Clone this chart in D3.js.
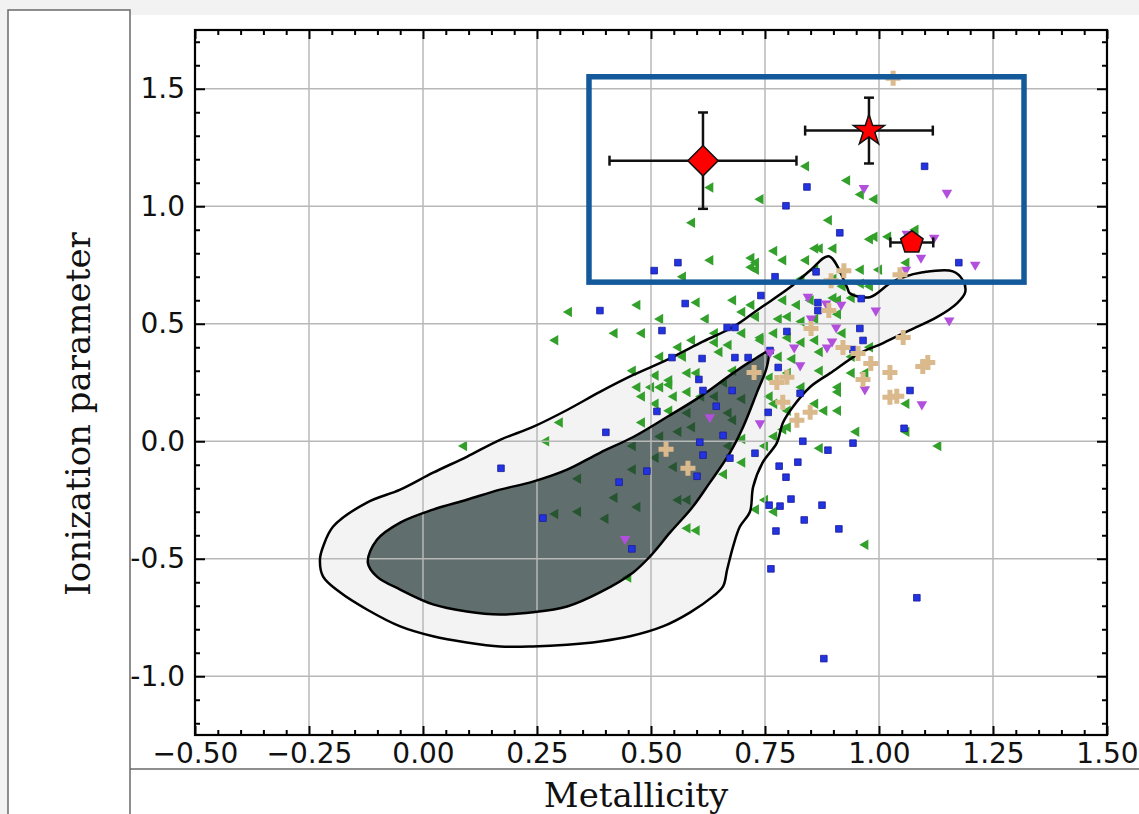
<!DOCTYPE html>
<html>
<head>
<meta charset="utf-8">
<script src="https://cdn.jsdelivr.net/npm/d3@7"></script>
<style>
html, body { margin: 0; padding: 0; background: #f2f2f2; }
svg { display: block; }
</style>
</head>
<body>
<svg id="chart" width="1139" height="814"></svg>
<script>
// tick values and labels
const xTicks = [-0.5, -0.25, 0, 0.25, 0.5, 0.75, 1, 1.25, 1.5];
const xTickLabels = ["\u22120.50", "\u22120.25", "0.00", "0.25", "0.50", "0.75", "1.00", "1.25", "1.50"];
const yTicks = [-1, -0.5, 0, 0.5, 1, 1.5];
const yTickLabels = ["-1.0", "-0.5", "0.0", "0.5", "1.0", "1.5"];

// density contours (metallicity, ionization parameter)
const outerContour = [
  [-0.226, -0.503], [-0.219, -0.448], [-0.197, -0.363], [-0.123, -0.261], [-0.050, -0.206],
  [0.022, -0.134], [0.096, -0.066], [0.169, 0.006], [0.241, 0.061], [0.316, 0.133],
  [0.388, 0.210], [0.461, 0.282], [0.535, 0.346], [0.607, 0.418], [0.680, 0.486],
  [0.739, 0.566], [0.805, 0.655], [0.849, 0.727], [0.890, 0.787], [0.930, 0.655],
  [0.936, 0.630], [0.980, 0.613], [1.024, 0.672], [1.053, 0.698], [1.096, 0.719],
  [1.162, 0.723], [1.184, 0.685], [1.189, 0.634], [1.171, 0.587], [1.127, 0.528],
  [1.068, 0.473], [1.009, 0.418], [0.958, 0.375], [0.893, 0.290], [0.849, 0.231],
  [0.811, 0.146], [0.789, 0.078], [0.776, -0.007], [0.745, -0.090], [0.724, -0.194],
  [0.717, -0.300], [0.695, -0.363], [0.680, -0.448], [0.667, -0.546], [0.658, -0.618],
  [0.636, -0.660], [0.586, -0.728], [0.526, -0.788], [0.454, -0.830], [0.388, -0.852],
  [0.316, -0.866], [0.241, -0.873], [0.169, -0.873], [0.096, -0.856], [0.022, -0.830],
  [-0.050, -0.788], [-0.123, -0.716], [-0.182, -0.643], [-0.219, -0.576]
];
const innerContour = [
  [-0.121, -0.516], [-0.101, -0.419], [-0.050, -0.346], [0.022, -0.291], [0.096, -0.249],
  [0.169, -0.206], [0.241, -0.172], [0.316, -0.121], [0.388, -0.049], [0.461, 0.018],
  [0.535, 0.103], [0.607, 0.189], [0.680, 0.290], [0.724, 0.346], [0.757, 0.380],
  [0.754, 0.316], [0.732, 0.206], [0.702, 0.061], [0.673, -0.049], [0.629, -0.176],
  [0.592, -0.278], [0.542, -0.388], [0.498, -0.490], [0.461, -0.558], [0.388, -0.643],
  [0.316, -0.703], [0.241, -0.728], [0.169, -0.737], [0.096, -0.724], [0.022, -0.694],
  [-0.050, -0.631], [-0.101, -0.576]
];

// scatter samples
const greenPts = [
  [0.84,1.17],[0.93,1.11],[0.63,1.08],[0.74,1.03],[0.96,1.05],[0.99,1.03],[0.59,0.93],[0.89,0.94],
  [0.98,0.86],[0.99,0.87],[1.02,0.87],[1.08,0.90],[0.90,0.82],[0.86,0.82],[0.87,0.82],[0.77,0.81],
  [0.79,0.77],[0.63,0.77],[0.72,0.74],[0.73,0.73],[0.84,0.77],[0.86,0.73],[0.96,0.73],[1.00,0.73],
  [1.06,0.76],[0.57,0.70],[0.83,0.69],[0.90,0.69],[0.96,0.67],[0.98,0.66],[0.68,0.60],[0.47,0.58],
  [0.90,0.61],[0.91,0.60],[0.73,0.76],[0.72,0.78],[0.92,0.72],[0.79,0.60],[0.82,0.58],[0.85,0.60],
  [0.92,0.66],[0.94,0.61],[0.73,0.53],[0.78,0.52],[0.80,0.53],[0.83,0.51],[0.86,0.52],[0.91,0.54],
  [0.74,0.43],[0.77,0.46],[0.80,0.44],[0.83,0.42],[0.86,0.43],[0.92,0.46],[0.98,0.40],[0.78,0.36],
  [0.81,0.35],[0.87,0.38],[0.94,0.36],[0.76,0.27],[0.80,0.29],[0.87,0.30],[0.94,0.29],[0.97,0.29],
  [0.76,0.19],[0.83,0.23],[0.91,0.21],[0.86,0.16],[0.77,0.16],[0.80,0.13],[0.88,0.13],[0.91,0.13],
  [0.95,0.04],[1.06,0.16],[1.06,0.04],[1.13,-0.02],[0.87,-0.03],[0.80,0.06],[0.79,0.05],
  [0.32,0.55],[0.29,0.43],[0.42,0.46],[0.48,0.46],[0.52,0.52],[0.60,0.59],[0.62,0.52],[0.64,0.46],
  [0.70,0.55],[0.72,0.58],[0.70,0.46],[0.74,0.44],[0.59,0.43],[0.56,0.40],[0.64,0.42],[0.67,0.41],
  [0.52,0.36],[0.57,0.36],[0.65,0.38],[0.46,0.30],[0.51,0.28],[0.54,0.26],[0.58,0.29],[0.60,0.29],
  [0.68,0.30],[0.47,0.23],[0.48,0.19],[0.50,0.23],[0.52,0.23],[0.55,0.19],[0.58,0.21],[0.61,0.19],
  [0.66,0.25],[0.64,0.19],[0.51,0.16],[0.54,0.13],[0.58,0.12],[0.70,0.18],[0.67,0.12],[0.30,0.08],
  [0.27,0.00],[0.09,-0.02],[0.48,0.08],[0.59,0.06],[0.68,0.09],[0.70,0.01],[0.77,0.02],[0.52,0.02],
  [0.56,0.04],[0.46,-0.02],[0.67,-0.02],[0.70,-0.09],[0.75,-0.02],[0.66,-0.14],[0.51,-0.07],[0.55,-0.11],
  [0.46,-0.12],[0.34,-0.16],[0.42,-0.24],[0.47,-0.28],[0.56,-0.25],[0.58,-0.25],[0.29,-0.31],[0.34,-0.30],
  [0.40,-0.33],[0.58,-0.37],[0.60,-0.38],[0.75,-0.25],[0.77,-0.30],[0.73,-0.29],[0.45,-0.58],[0.54,0.24],
  [0.91,0.23],[0.97,-0.44]
];
const bluePts = [
  [1.10,1.17],[0.842,1.082],[0.796,1.002],[0.914,0.887],[0.559,0.760],[0.507,0.726],[0.772,0.700],[0.862,0.721],
  [1.175,0.760],[0.741,0.620],[0.575,0.586],[0.866,0.590],[0.866,0.556],[0.961,0.607],[0.388,0.556],[0.524,0.471],
  [0.667,0.484],[0.684,0.484],[0.798,0.467],[0.958,0.480],[0.965,0.429],[0.943,0.390],[0.546,0.356],[0.612,0.352],
  [0.684,0.356],[0.713,0.356],[0.761,0.386],[0.779,0.314],[0.605,0.263],[0.678,0.216],[0.614,0.216],[0.827,0.204],
  [1.068,0.216],[0.643,0.149],[0.513,0.127],[0.757,0.123],[0.401,0.038],[0.658,0.025],[0.607,-0.004],[1.055,0.055],
  [0.833,0.0],[0.943,-0.008],[0.888,-0.038],[0.728,-0.051],[0.614,-0.059],[0.673,-0.072],[0.781,-0.106],[0.822,-0.089],
  [0.796,-0.153],[0.601,-0.149],[0.491,-0.127],[0.171,-0.115],[0.430,-0.174],[0.759,-0.272],[0.783,-0.276],[0.807,-0.246],
  [0.875,-0.272],[0.836,-0.335],[0.912,-0.373],[0.774,-0.382],[0.263,-0.327],[0.458,-0.458],[0.763,-0.543],[0.879,-0.925],
  [1.083,-0.666]
];
const purplePts = [
  [0.967,1.078],[1.149,1.057],[1.061,0.883],[1.121,0.866],[1.092,0.781],[1.059,0.730],[1.211,0.751],[0.844,0.615],
  [0.884,0.586],[0.917,0.581],[0.993,0.556],[0.851,0.522],[0.906,0.484],[0.897,0.424],[0.814,0.399],[0.886,0.399],
  [0.827,0.323],[0.969,0.221],[1.094,0.157],[1.154,0.514],[0.739,0.076],[0.629,0.102],[0.443,-0.416],[0.761,0.378]
];
const tanPts = [
  [1.031,1.545],[0.923,0.726],[0.895,0.683],[1.046,0.709],[0.890,0.556],[0.851,0.480],[0.921,0.399],[0.954,0.373],
  [0.982,0.331],[1.053,0.441],[1.107,0.335],[1.024,0.293],[0.798,0.272],[0.776,0.250],[0.965,0.263],[1.024,0.187],
  [0.789,0.166],[0.849,0.123],[0.820,0.089],[0.726,0.293],[0.533,-0.034],[0.581,-0.115],[1.096,0.318],[1.039,0.191]
];

// highlighted objects with error bars
const objX = [0.614, 0.978, 1.072];
const objY = [1.194, 1.322, 0.846];
const objXErr = [0.205, 0.14, 0.047];
const objYErr = [0.205, 0.14, 0.0];
const objShape = ["diamond", "star", "pentagon"];

// highlight box [x0, x1], [y0, y1]
const boxX = [0.364, 1.318];
const boxY = [0.677, 1.551];

const svg = d3.select("#chart");

// page frame
svg.append("rect").attr("x", 130).attr("y", 15).attr("width", 1009).attr("height", 799).attr("fill", "#fff");
svg.append("rect").attr("x", 8).attr("y", 10).attr("width", 122).attr("height", 830)
  .attr("fill", "#fff").attr("stroke", "#6a6a6a").attr("stroke-width", 1.5);
svg.append("line").attr("x1", 130).attr("x2", 1139).attr("y1", 769).attr("y2", 769)
  .attr("stroke", "#6a6a6a").attr("stroke-width", 1.5);

const x = d3.scaleLinear().domain([-0.5, 1.5]).range([195, 1107]);
const y = d3.scaleLinear().domain([-1.25, 1.75]).range([735, 30]);

svg.append("defs").append("clipPath").attr("id", "plot")
  .append("rect").attr("x", 195).attr("y", 30).attr("width", 912).attr("height", 705);

const plot = svg.append("g").attr("clip-path", "url(#plot)");

const contourLine = d3.line()
  .x(d => x(d[0]))
  .y(d => y(d[1]))
  .curve(d3.curveCatmullRomClosed.alpha(0.5));

const sym = (type, size) => d3.symbol().type(type).size(size)();

// outer contour fill
plot.append("path").attr("d", contourLine(outerContour)).attr("fill", "#f3f3f3");

// green points sit under the dark contour
plot.append("g").selectAll("path")
  .data(greenPts)
  .enter()
  .append("path")
  .attr("d", sym(d3.symbolTriangle, 48))
  .attr("transform", d => `translate(${x(d[0])},${y(d[1])}) rotate(-90)`)
  .attr("fill", "#33a02c");

plot.append("path").attr("d", contourLine(innerContour))
  .attr("fill", "#223434").attr("fill-opacity", 0.7);

// grid
plot.append("g").selectAll("line")
  .data(xTicks)
  .enter()
  .append("line")
  .attr("x1", d => x(d)).attr("x2", d => x(d))
  .attr("y1", 30).attr("y2", 735)
  .attr("stroke", "#b8b8b8").attr("stroke-width", 1.5);
plot.append("g").selectAll("line")
  .data(yTicks)
  .enter()
  .append("line")
  .attr("y1", d => y(d)).attr("y2", d => y(d))
  .attr("x1", 195).attr("x2", 1107)
  .attr("stroke", "#b8b8b8").attr("stroke-width", 1.5);

// contour outlines
[outerContour, innerContour].forEach(c => {
  plot.append("path").attr("d", contourLine(c))
    .attr("fill", "none").attr("stroke", "#000").attr("stroke-width", 2.5);
});

// blue squares
plot.append("g").selectAll("path")
  .data(bluePts)
  .enter()
  .append("path")
  .attr("d", sym(d3.symbolSquare, 44))
  .attr("transform", d => `translate(${x(d[0])},${y(d[1])})`)
  .attr("fill", "#2233e0").attr("stroke", "#1a1a99").attr("stroke-width", 0.8);

// purple down triangles
plot.append("g").selectAll("path")
  .data(purplePts)
  .enter()
  .append("path")
  .attr("d", sym(d3.symbolTriangle, 48))
  .attr("transform", d => `translate(${x(d[0])},${y(d[1])}) rotate(180)`)
  .attr("fill", "#b24fdc");

// tan pluses
plot.append("g").selectAll("path")
  .data(tanPts)
  .enter()
  .append("path")
  .attr("d", sym(d3.symbolCross, 125))
  .attr("transform", d => `translate(${x(d[0])},${y(d[1])})`)
  .attr("fill", "#dab98c");

// error bars
const objs = objX.map((v, i) => ({ x: v, y: objY[i], ex: objXErr[i], ey: objYErr[i], shape: objShape[i] }));
const eb = plot.append("g").attr("stroke", "#111").attr("stroke-width", 2.5);
objs.forEach(o => {
  const cx = x(o.x), cy = y(o.y);
  const xl = x(o.x - o.ex), xr = x(o.x + o.ex);
  eb.append("line").attr("x1", xl).attr("x2", xr).attr("y1", cy).attr("y2", cy);
  eb.append("line").attr("x1", xl).attr("x2", xl).attr("y1", cy - 5).attr("y2", cy + 5);
  eb.append("line").attr("x1", xr).attr("x2", xr).attr("y1", cy - 5).attr("y2", cy + 5);
  if (o.ey > 0) {
    const yt = y(o.y + o.ey), yb = y(o.y - o.ey);
    eb.append("line").attr("x1", cx).attr("x2", cx).attr("y1", yt).attr("y2", yb);
    eb.append("line").attr("x1", cx - 5).attr("x2", cx + 5).attr("y1", yt).attr("y2", yt);
    eb.append("line").attr("x1", cx - 5).attr("x2", cx + 5).attr("y1", yb).attr("y2", yb);
  }
});

// pentagon symbol
const symbolPentagon = {
  draw(ctx, size) {
    const r = Math.sqrt(size);
    for (let k = 0; k < 5; k++) {
      const a = -Math.PI / 2 + k * 2 * Math.PI / 5;
      if (k === 0) ctx.moveTo(r * Math.cos(a), r * Math.sin(a));
      else ctx.lineTo(r * Math.cos(a), r * Math.sin(a));
    }
    ctx.closePath();
  }
};
const shapes = {
  diamond: { d: sym(d3.symbolSquare, 460), rot: 45 },
  star: { d: sym(d3.symbolStar, 300), rot: 0 },
  pentagon: { d: sym(symbolPentagon, 140), rot: 0 }
};
plot.append("g").selectAll("path")
  .data(objs)
  .enter()
  .append("path")
  .attr("d", d => shapes[d.shape].d)
  .attr("transform", d => `translate(${x(d.x)},${y(d.y)}) rotate(${shapes[d.shape].rot})`)
  .attr("fill", "#f00").attr("stroke", "#111").attr("stroke-width", 1.5);

// axes with inward ticks
function styleAxis(g) {
  g.select(".domain").remove();
  g.selectAll("line").attr("stroke", "#000").attr("stroke-width", 2);
  g.selectAll("text").attr("font-family", "DejaVu Sans").attr("font-size", 28).attr("fill", "#111");
}
const xMinor = d3.range(-0.5, 1.5001, 0.05).filter(v => Math.abs(v * 4 - Math.round(v * 4)) > 1e-6);
const yMinor = d3.range(-1.2, 1.7501, 0.1).filter(v => Math.abs(v * 2 - Math.round(v * 2)) > 1e-6);

svg.append("g").attr("transform", "translate(0,735)")
  .call(d3.axisBottom(x).tickValues(xTicks).tickFormat((d, i) => xTickLabels[i]).tickSize(-9).tickSizeOuter(0).tickPadding(8))
  .call(styleAxis);
svg.append("g").attr("transform", "translate(0,735)")
  .call(d3.axisBottom(x).tickValues(xMinor).tickFormat("").tickSize(-5).tickSizeOuter(0))
  .call(styleAxis);
svg.append("g").attr("transform", "translate(0,30)")
  .call(d3.axisTop(x).tickValues(xTicks).tickFormat("").tickSize(-9).tickSizeOuter(0))
  .call(styleAxis);
svg.append("g").attr("transform", "translate(0,30)")
  .call(d3.axisTop(x).tickValues(xMinor).tickFormat("").tickSize(-5).tickSizeOuter(0))
  .call(styleAxis);
svg.append("g").attr("transform", "translate(195,0)")
  .call(d3.axisLeft(y).tickValues(yTicks).tickFormat((d, i) => yTickLabels[i]).tickSize(-10).tickSizeOuter(0).tickPadding(10))
  .call(styleAxis);
svg.append("g").attr("transform", "translate(195,0)")
  .call(d3.axisLeft(y).tickValues(yMinor).tickFormat("").tickSize(-5).tickSizeOuter(0))
  .call(styleAxis);
svg.append("g").attr("transform", "translate(1107,0)")
  .call(d3.axisRight(y).tickValues(yTicks).tickFormat("").tickSize(-10).tickSizeOuter(0))
  .call(styleAxis);
svg.append("g").attr("transform", "translate(1107,0)")
  .call(d3.axisRight(y).tickValues(yMinor).tickFormat("").tickSize(-5).tickSizeOuter(0))
  .call(styleAxis);

// spines
svg.append("rect").attr("x", 195).attr("y", 30).attr("width", 912).attr("height", 705)
  .attr("fill", "none").attr("stroke", "#000").attr("stroke-width", 2.2);

// highlight box
svg.append("rect")
  .attr("x", x(boxX[0])).attr("y", y(boxY[1]))
  .attr("width", x(boxX[1]) - x(boxX[0])).attr("height", y(boxY[0]) - y(boxY[1]))
  .attr("fill", "none").attr("stroke", "#145a9b").attr("stroke-width", 5.5);

// axis titles
svg.append("text")
  .attr("x", 636).attr("y", 807)
  .attr("text-anchor", "middle")
  .attr("font-family", "DejaVu Serif").attr("font-size", 34).attr("fill", "#111")
  .text("Metallicity");
svg.append("text")
  .attr("transform", "translate(90,414) rotate(-90)")
  .attr("text-anchor", "middle")
  .attr("font-family", "DejaVu Serif").attr("font-size", 34).attr("fill", "#111")
  .text("Ionization parameter");
</script>
</body>
</html>
